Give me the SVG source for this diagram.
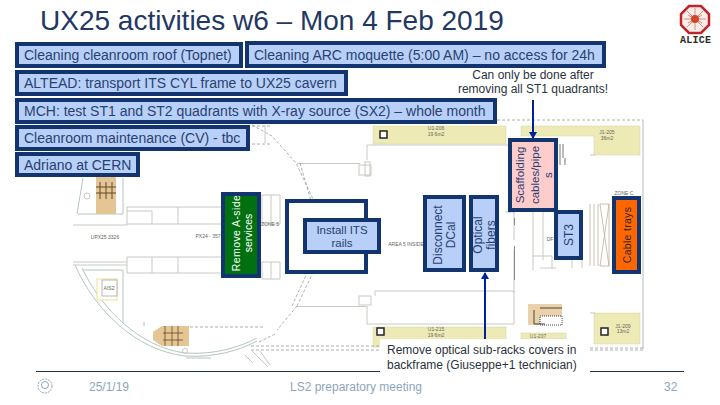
<svg xmlns="http://www.w3.org/2000/svg" width="720" height="405" viewBox="0 0 720 405">
<style>
text{font-family:"Liberation Sans",Arial,sans-serif}
.box{fill:#b8cff7;stroke:#12356f;stroke-width:4}
.t{font-size:14px;fill:#274272}
.v{font-size:12px;fill:#274272;text-anchor:middle}
.p{fill:none;stroke:#c8c8c0;stroke-width:1}
.g{fill:none;stroke:#b4c6c2;stroke-width:1}
.d{fill:none;stroke:#9a9a9a;stroke-width:.8;stroke-dasharray:3 2}
.y{fill:#eeeab6;stroke:#d2d2ac;stroke-width:.5}
.s{font-size:5px;fill:#66665a;text-anchor:middle}
.f{font-size:12px;fill:#8ea6bb}
.n{font-size:12px;fill:#2a3340}
</style>
<defs><marker id="ah" markerWidth="8" markerHeight="8" refX="6" refY="4" orient="auto" markerUnits="userSpaceOnUse"><path d="M0 0L7 4L0 8z" fill="#00209f"/></marker></defs>
<rect width="720" height="405" fill="#fff"/>
<g id="plan">
<rect class="y" x="373" y="126" width="133" height="18"/>
<path class="y" d="M521 126H640V155H594V136H521z"/>
<rect class="y" x="373" y="327" width="133" height="20"/>
<rect class="y" x="594" y="313" width="46" height="31"/>
<rect class="y" x="521" y="333" width="45" height="6"/>
<path class="p" d="M595 155H590M367 160V145H508M297 163.500H360M297 306.500H366M367 306V324H514V291H375V296M514 293V250M514 200V240M515 212H505M595 313H590"/>
<rect class="p" x="359" y="165" width="12" height="10" fill="#fff"/><rect class="p" x="359" y="296" width="12" height="9" fill="#fff"/>
<rect class="p" x="365" y="162" width="5" height="14"/>
<path d="M643 120V349" stroke="#b4babc" fill="none"/>
<path class="d" d="M497 120H643M590 348H643M590 350H643M251 346H380M251 350H380"/>
<path class="d" d="M252 125L272 136L296 163L322 218M300 163L316 218M297 306L318 262M292 306L312 262M297 306L277 330M275 334L257 343M252 126H270M252 144H270M190 327H265"/>
<path class="p" d="M265 125v18M252 351L268 367M260 351L270 365M245 355L253 363"/>
<path class="g" d="M75 265C95 310 135 350 185 356C215 358 240 350 257 341M82 268C102 310 140 347 185 353C215 355 240 347 257 338M186 358H211"/>
<path class="g" d="M83 270H123V323M78 214H123V178M83 178L77 214"/>
<path class="p" d="M73 225H127V207H221M127 224H221M127 211H152V224M178 207V224M73 262H127M73 265H127M127 257H221M127 273H221M127 257V273M152 257V273M178 257V273M262 195H280V224H262zM271 195V224M262 262H280V279H262zM271 262V279"/>
<rect x="96" y="177" width="20" height="37" fill="#e6c594"/>
<path d="M100 182V199M106 182V199M112 182V199M96 187H116M96 193H116" stroke="#604a2a" fill="none"/>
<circle cx="87" cy="196" r="3" class="p"/>
<rect x="97" y="279" width="20" height="21" fill="#fff" stroke="#f2dd90"/><rect x="102" y="280" width="15" height="16" fill="#fff" stroke="#999" stroke-width=".7"/>
<text class="s" x="109" y="290">AIS2</text>
<path d="M153 332L162 326H189V346H162L153 340z" fill="#e6c594"/>
<path d="M165 326V346M172 326V346M178 326V346M163 333H183M163 340H183" stroke="#604a2a" fill="none" stroke-width=".8"/>
<circle cx="185" cy="351" r="2.500" class="p"/>
<rect x="528" y="304" width="34" height="21" fill="#e6c594" opacity=".8"/>
<rect x="540" y="316" width="22" height="9" fill="#fff" stroke="#444" stroke-dasharray="1 1"/><path d="M534 310V324H545M540 308H562" stroke="#444" fill="none"/>
<path d="M590 204V266M594 204V266M598 204V266M609 204V266M600 204L609 266M609 204L600 266M600 204H609M600 266H609" stroke="#c4ae98" fill="none" stroke-width=".8"/>
<path class="p" d="M532 200H540M533 212V270M543 212V260M532 256H552V268M540 268H556M572 260V268M582 260V268"/>
<path d="M514.500 218V225M514.500 246V280" stroke="#888"/>
<path d="M560 144V158M563 144V158M565 158V165M560 158V165" stroke="#777" fill="none"/>
<rect x="380" y="131" width="7" height="7" fill="#fff" stroke="#222" stroke-width="1.500"/>
<rect x="377" y="328" width="7" height="7" fill="#fff" stroke="#222" stroke-width="1.500"/>
<rect x="601" y="328" width="7" height="7" fill="#fff" stroke="#222" stroke-width="1.500"/>
<text class="s" x="436" y="130">U1-206</text><text class="s" x="436" y="136">19 6m2</text>
<text class="s" x="607" y="134">J1-205</text><text class="s" x="607" y="140">36m2</text>
<text class="s" x="436" y="331">U1-215</text><text class="s" x="436" y="337">19 6m2</text>
<text class="s" x="623" y="328">J1-209</text><text class="s" x="623" y="333">13m2</text>
<text class="s" x="538" y="338">U1-207</text>
<text class="s" x="624" y="195">ZONE C</text>
<text class="s" x="270" y="226">ZONE 5</text>
<text class="s" x="105" y="239">UPX25 3326</text>
<text class="s" x="208" y="238">PX24 - 357</text>
<text class="s" x="406" y="246">AREA 5 INSIDE</text>
<text class="s" x="550" y="241">DF</text>
<text class="s" x="144" y="326">I</text>
</g>
<rect x="380" y="339" width="210" height="37" fill="#fff"/>
<g id="footer">
<path d="M36 371.500H380M590 371.500H684" stroke="#1a3448" fill="none"/>
<circle cx="45" cy="386" r="7" fill="none" stroke="#8fa3b3" stroke-dasharray="2 1"/><circle cx="45" cy="385" r="3.500" fill="none" stroke="#8fa3b3"/>
<text class="f" x="89" y="391">25/1/19</text>
<text class="f" x="356" y="391" text-anchor="middle">LS2 preparatory meeting</text>
<text class="f" x="664" y="391">32</text>
</g>
<text id="title" x="40" y="30" font-size="28" fill="#1f3864">UX25 activities w6 – Mon 4 Feb 2019</text>
<g id="logo">
<path d="M689 6H701L709 14V25L701 33H689L681 25V14z" fill="#fbeeea" stroke="#c0242b" stroke-width="2.500"/>
<path d="M684 19H706M695 8V30M687 11L703 27M703 11L687 27M688 15L702 23M702 15L688 23" stroke="#dc8a78" fill="none"/>
<circle cx="695" cy="19" r="4" fill="#d2452c"/>
<text x="695.500" y="42.500" font-size="10" font-weight="bold" fill="#2b2b2b" text-anchor="middle" style="font-family:'Liberation Mono',monospace" textLength="31">ALICE</text>
</g>
<g id="cleaning-roof"><rect class="box" x="17" y="44" width="224" height="22"/><text class="t" x="24" y="60">Cleaning cleanroom roof (Topnet)</text></g>
<g id="cleaning-arc"><rect class="box" x="247" y="43" width="357" height="23"/><text class="t" x="254" y="60">Cleaning ARC moquette (5:00 AM) – no access for 24h</text></g>
<g id="altead"><rect class="box" x="17" y="72" width="329" height="22"/><text class="t" x="24" y="88">ALTEAD: transport ITS CYL frame to UX25 cavern</text></g>
<g id="mch"><rect class="box" x="17" y="100" width="478" height="22"/><text class="t" x="24" y="116">MCH: test ST1 and ST2 quadrants with X-ray source (SX2) – whole month</text></g>
<g id="cleanroom"><rect class="box" x="17" y="127" width="231" height="22"/><text class="t" x="24" y="143">Cleanroom maintenance (CV) - tbc</text></g>
<g id="adriano"><rect class="box" x="17" y="154" width="121" height="21"/><text class="t" x="24" y="170">Adriano at CERN</text></g>
<g id="white-box"><rect x="287" y="201" width="79" height="71" fill="#fff" stroke="#12356f" stroke-width="4"/></g>
<g id="remove-aside"><rect x="223" y="194" width="36" height="82" fill="#007010" stroke="#12356f" stroke-width="4"/><text class="v" style="font-size:10.500px;fill:#fff;letter-spacing:.4px" transform="translate(240 233) rotate(-90)">Remove A-side</text><text class="v" style="font-size:10.500px;fill:#fff" transform="translate(252 233) rotate(-90)">services</text></g>
<g id="install"><rect class="box" x="305" y="220" width="74" height="32"/><text class="v" style="font-size:11.500px" x="342" y="234">Install ITS</text><text class="v" style="font-size:11.500px" x="342" y="247">rails</text></g>
<g id="disconnect"><rect class="box" x="425" y="197" width="39" height="73"/><text class="v" transform="translate(442 235) rotate(-90)">Disconnect</text><text class="v" transform="translate(455 235) rotate(-90)">DCal</text></g>
<g id="optical"><rect class="box" x="471" y="197" width="26" height="73"/><text class="v" transform="translate(482 235) rotate(-90)">Optical</text><text class="v" transform="translate(495 235) rotate(-90)">fibers</text></g>
<g id="scaffolding"><rect x="510" y="140" width="46" height="70" fill="#ffcccc" stroke="#12356f" stroke-width="4"/><text class="v" style="font-size:11.500px" transform="translate(524 175) rotate(-90)">Scaffolding</text><text class="v" style="font-size:11.500px" transform="translate(539 175) rotate(-90)">cables/pipe</text><text class="v" style="font-size:11.500px" transform="translate(552 175) rotate(-90)">s</text></g>
<g id="st3"><rect class="box" x="556" y="212" width="25" height="46"/><text class="v" transform="translate(573 235) rotate(-90)">ST3</text></g>
<g id="cable-trays"><rect x="614" y="198" width="25" height="74" fill="#ff6600" stroke="#12356f" stroke-width="4"/><text class="v" style="font-size:10.500px;fill:#2a2a2a;letter-spacing:.3px" transform="translate(631 235) rotate(-90)">Cable trays</text></g>
<g id="notes">
<text class="n" x="533" y="79" text-anchor="middle">Can only be done after</text>
<text class="n" x="533" y="93" text-anchor="middle">removing all ST1 quadrants!</text>
<text class="n" x="387" y="354">Remove optical sub-racks covers in</text>
<text class="n" x="387" y="369">backframe (Giuseppe+1 technician)</text>
</g>
<g id="connectors" fill="none" stroke="#00209f" stroke-width="2">
<path d="M533 100V138" marker-end="url(#ah)"/>
<path d="M485 339V273" marker-end="url(#ah)"/>
</g>
</svg>
